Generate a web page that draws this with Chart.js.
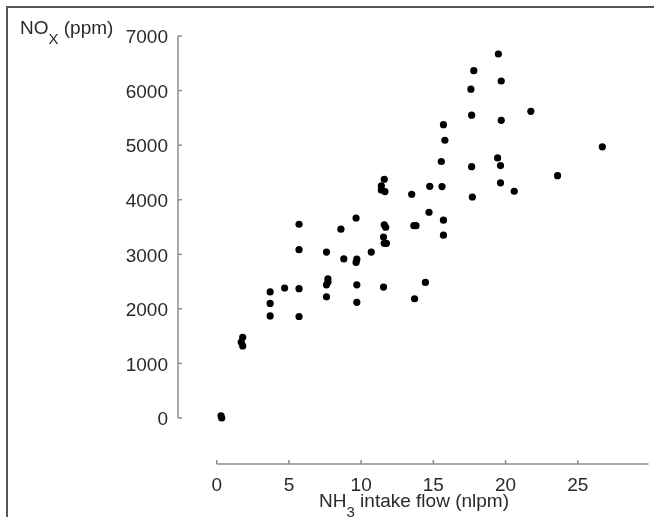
<!DOCTYPE html>
<html><head><meta charset="utf-8">
<script src="https://cdn.jsdelivr.net/npm/chart.js@4.4.0/dist/chart.umd.min.js"></script>
<style>
html,body{margin:0;padding:0;background:#fff;}
#wrap{position:relative;width:654px;height:517px;overflow:hidden;}
#frame{position:absolute;left:6px;top:6px;right:-4px;bottom:-4px;border-top:2px solid #555;border-left:2px solid #555;pointer-events:none;}
canvas{position:absolute;left:0;top:0;}
</style></head><body>
<div id="wrap"><canvas id="c" width="654" height="517"></canvas><div id="frame"></div></div>
<script>
const flowNH3 = [0.3,0.35,1.8,1.7,1.8,3.7,3.7,3.7,4.7,5.7,5.7,5.7,5.7,7.6,7.6,7.7,7.7,7.6,8.6,8.8,9.65,9.7,9.7,9.7,9.65,10.7,11.55,11.6,11.4,11.4,11.65,11.6,11.7,11.55,11.6,11.75,13.5,14.75,15.6,15.7,15.8,15.55,14.7,13.65,13.8,15.7,15.7,14.45,13.7,19.5,17.8,19.7,17.6,17.65,21.75,19.7,26.7,19.45,19.65,17.65,19.65,23.6,20.6,17.7];
const noxPPM = [40,0,1480,1390,1320,2310,2100,1870,2380,2370,1860,3550,3085,2220,2440,2490,2550,3040,3460,2915,2850,2910,2440,2120,3665,3040,2400,4375,4255,4180,4150,3540,3495,3315,3200,3200,4100,4245,4240,5375,5090,4700,3770,3525,3525,3625,3350,2485,2185,6670,6365,6175,6025,5550,5620,5455,4970,4765,4625,4605,4310,4440,4155,4050];
const xTicks = [0,5,10,15,20,25];
const yTicks = [0,1000,2000,3000,4000,5000,6000,7000];

const FONT = '"Liberation Sans", Arial, Helvetica, sans-serif';
const TXT = '#2a2a2a';
const AX = '#8c8c8c';

function drawSubText(ctx, parts, x, y, align) {
  let w = 0;
  parts.forEach(p => { ctx.font = p.size + 'px ' + FONT; w += ctx.measureText(p.t).width; });
  let cx = align === 'center' ? x - w / 2 : x;
  ctx.textBaseline = 'alphabetic';
  ctx.textAlign = 'left';
  ctx.fillStyle = TXT;
  parts.forEach(p => {
    ctx.font = p.size + 'px ' + FONT;
    ctx.fillText(p.t, cx, y + (p.dy || 0));
    cx += ctx.measureText(p.t).width;
  });
}

const axesPlugin = {
  id: 'axesPlugin',
  beforeDatasetsDraw(chart) {
    const ctx = chart.ctx, xs = chart.scales.x, ys = chart.scales.y;
    ctx.save();
    ctx.strokeStyle = AX;
    ctx.lineWidth = 1.5;
    const ax = ys.right;
    const y0 = ys.getPixelForValue(0), y1 = ys.getPixelForValue(7000);
    ctx.beginPath(); ctx.moveTo(ax, y0); ctx.lineTo(ax, y1); ctx.stroke();
    yTicks.forEach(v => { const p = ys.getPixelForValue(v); ctx.beginPath(); ctx.moveTo(ax, p); ctx.lineTo(ax + 4, p); ctx.stroke(); });
    const ay = xs.top;
    const xa = xs.getPixelForValue(0), xb = xs.getPixelForValue(29.9);
    ctx.beginPath(); ctx.moveTo(xa, ay); ctx.lineTo(xb, ay); ctx.stroke();
    xTicks.forEach(v => { const p = xs.getPixelForValue(v); ctx.beginPath(); ctx.moveTo(p, ay); ctx.lineTo(p, ay - 4); ctx.stroke(); });
    ctx.restore();
  },
  afterDraw(chart) {
    const ctx = chart.ctx;
    ctx.save();
    drawSubText(ctx, [{t:'NO', size:19},{t:'X', size:15, dy:10},{t:' (ppm)', size:19}], 20, 34, 'left');
    drawSubText(ctx, [{t:'NH', size:19},{t:'3', size:15, dy:10},{t:' intake flow (nlpm)', size:19}], 414, 507, 'center');
    ctx.restore();
  }
};

new Chart(document.getElementById('c'), {
  type: 'scatter',
  data: {
    datasets: [{
      data: flowNH3.map((x, i) => ({x: x, y: noxPPM[i]})),
      backgroundColor: '#000',
      borderColor: '#000',
      pointRadius: 3.6,
      borderWidth: 0
    }]
  },
  options: {
    responsive: false,
    devicePixelRatio: 1,
    animation: false,
    layout: {padding: {top: 36, left: 0, right: 0, bottom: 0}},
    plugins: {legend: {display: false}, tooltip: {enabled: false}},
    scales: {
      x: {
        type: 'linear', min: -2.68, max: 30,
        afterBuildTicks: s => { s.ticks = xTicks.map(v => ({value: v})); },
        afterFit: s => { s.height = 53; },
        grid: {display: false, drawTicks: false},
        border: {display: false},
        ticks: {color: TXT, font: {family: FONT, size: 19}, padding: 10, maxRotation: 0, callback: v => String(v)}
      },
      y: {
        type: 'linear', min: -843, max: 7000,
        afterBuildTicks: s => { s.ticks = yTicks.map(v => ({value: v})); },
        afterFit: s => { s.width = 178; },
        grid: {display: false, drawTicks: false},
        border: {display: false},
        ticks: {color: TXT, font: {family: FONT, size: 19}, padding: 10, labelOffset: 2, callback: v => String(v)}
      }
    }
  },
  plugins: [axesPlugin]
});
</script>
</body></html>
